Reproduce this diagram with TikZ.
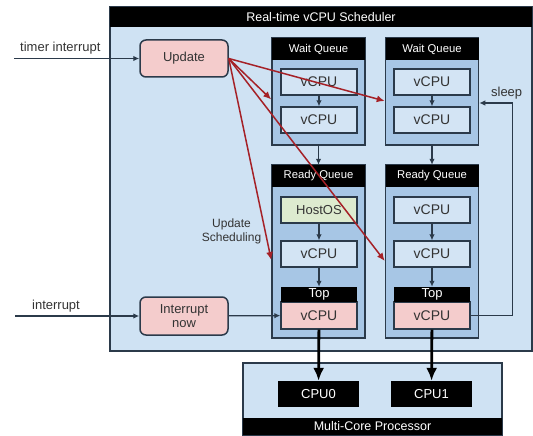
\documentclass[tikz,border=0pt]{standalone}
\usepackage{fontspec}
\setmainfont{Liberation Sans}
\usetikzlibrary{shapes.geometric, arrows, arrows.meta, positioning}

\definecolor{schedblue}{HTML}{CFE2F3}
\definecolor{queueblue}{HTML}{A7C6E5}
\definecolor{boxblue}{HTML}{D3E4F4}
\definecolor{pinkbox}{HTML}{F4CCCC}
\definecolor{greenbox}{HTML}{DDEBCF}
\definecolor{redline}{HTML}{A52127}
\definecolor{edge}{HTML}{2B3A4A}
\definecolor{labelgray}{HTML}{333333}

\tikzstyle{panel} = [
    rectangle,
    inner sep=0pt,
    draw=edge, line width=1.5pt, fill=schedblue]
\tikzstyle{queue} = [
    rectangle,
    minimum width=93pt,
    inner sep=0pt,
    draw=edge, line width=1.5pt, fill=queueblue]
\tikzstyle{bar} = [
    rectangle,
    inner sep=0pt,
    text centered,
    fill=black, text=white,
    font=\fontsize{11.3}{13}\selectfont]
\tikzstyle{vcpu} = [
    rectangle,
    minimum width=76pt, minimum height=26pt,
    inner sep=0pt,
    text centered, text=labelgray,
    draw=edge, line width=1.3pt, fill=boxblue,
    font=\fontsize{14}{16}\selectfont]
\tikzstyle{process} = [
    rectangle,
    rounded corners=6pt,
    minimum width=88pt, minimum height=37pt,
    align=center, text=labelgray,
    draw=edge, line width=1.5pt, fill=pinkbox,
    font=\fontsize{13}{15}\selectfont]
\tikzstyle{cpu} = [
    rectangle,
    minimum width=81pt, minimum height=26pt,
    text centered,
    fill=black, text=white,
    font=\fontsize{13}{15}\selectfont]
\tikzstyle{arrow} = [line width=1.3pt, draw=edge, -{Latex[length=6pt,width=5.5pt]}]
\tikzstyle{redarrow} = [line width=1.5pt, draw=redline, -{Latex[length=8pt,width=7pt]}]
\tikzstyle{bigarrow} = [line width=2.8pt, draw=black, -{Latex[length=13pt,width=11pt]}]

\begin{document}
\begin{tikzpicture}[x=1pt, y=-1pt, font=\fontsize{13}{15}\selectfont]
    \useasboundingbox (0,0) rectangle (533,436);

    % scheduler
    \node (sched) [panel, minimum width=422pt, minimum height=344pt] at (321,179) {};
    \node (sched_title) [bar, minimum width=422pt, minimum height=20pt, font=\fontsize{12.5}{14}\selectfont] at (321,17) {Real-time vCPU Scheduler};

    \node (upd) [process] at (184,58.5) {Update};
    \node (int_now) [process, minimum height=38pt, font=\fontsize{13}{14.5}\selectfont] at (184,316) {Interrupt\\now};

    % wait queues
    \node (wait_0) [queue, minimum height=107pt] at (318.5,91.5) {};
    \node (wait_0_title) [bar, minimum width=93pt, minimum height=22pt] at (318.5,49) {Wait Queue};
    \node (vcpu_w0_a) [vcpu] at (319,82) {vCPU};
    \node (vcpu_w0_b) [vcpu] at (319,120) {vCPU};

    \node (wait_1) [queue, minimum height=107pt] at (432,91.5) {};
    \node (wait_1_title) [bar, minimum width=93pt, minimum height=22pt] at (432,49) {Wait Queue};
    \node (vcpu_w1_a) [vcpu] at (432,82) {vCPU};
    \node (vcpu_w1_b) [vcpu] at (432,120) {vCPU};

    % ready queues
    \node (ready_0) [queue, minimum height=173pt] at (318.5,251.5) {};
    \node (ready_0_title) [bar, minimum width=93pt, minimum height=22pt] at (318.5,176) {Ready Queue};
    \node (host_os) [vcpu, fill=greenbox, font=\fontsize{13}{15}\selectfont] at (319,210) {HostOS};
    \node (vcpu_r0_a) [vcpu] at (319,254) {vCPU};
    \node (vcpu_r0_top) [vcpu, minimum height=27pt, fill=pinkbox] at (319,315.5) {vCPU};
    \node (top_0) [bar, minimum width=76pt, minimum height=15pt, font=\fontsize{13}{15}\selectfont] at (319,294.5) {Top};

    \node (ready_1) [queue, minimum height=173pt] at (432,251.5) {};
    \node (ready_1_title) [bar, minimum width=93pt, minimum height=22pt] at (432,176) {Ready Queue};
    \node (vcpu_r1_a) [vcpu] at (432,210) {vCPU};
    \node (vcpu_r1_b) [vcpu] at (432,254) {vCPU};
    \node (vcpu_r1_top) [vcpu, minimum height=27pt, fill=pinkbox] at (432,315.5) {vCPU};
    \node (top_1) [bar, minimum width=76pt, minimum height=15pt, font=\fontsize{13}{15}\selectfont] at (432,294.5) {Top};

    % processor
    \node (multi) [panel, minimum width=259pt, minimum height=72pt] at (372.5,399) {};
    \node (multi_title) [bar, minimum width=259pt, minimum height=17pt, font=\fontsize{12.5}{14}\selectfont] at (372.5,426.5) {Multi-Core Processor};
    \node (cpu_0) [cpu] at (318.5,394) {CPU0};
    \node (cpu_1) [cpu] at (431.5,394) {CPU1};

    \coordinate (timer_in) at (14,58.5);
    \coordinate (irq_in) at (15,316);

    \draw [arrow] (timer_in) -- node[pos=0.37, above, text=labelgray] {timer interrupt} (upd);
    \draw [arrow] (irq_in) -- node[pos=0.33, above, text=labelgray] {interrupt} (int_now);
    \draw [arrow] (int_now) -- (vcpu_r0_top);

    \draw [arrow] (vcpu_w0_a) -- (vcpu_w0_b);
    \draw [arrow] (vcpu_w1_a) -- (vcpu_w1_b);
    \draw [arrow] (wait_0) -- (ready_0_title);
    \draw [arrow] (wait_1) -- (ready_1_title);
    \draw [arrow] (host_os) -- (vcpu_r0_a);
    \draw [arrow] (vcpu_r0_a) -- (top_0);
    \draw [arrow] (vcpu_r1_a) -- (vcpu_r1_b);
    \draw [arrow] (vcpu_r1_b) -- (top_1);

    \draw [arrow] (vcpu_r1_top.east) -- ++(42,0) |- node[pos=0.5, above, xshift=-6pt, text=labelgray] {sleep} ([yshift=-11.5pt]wait_1.east);

    \draw [bigarrow] (vcpu_r0_top) -- (cpu_0);
    \draw [bigarrow] (vcpu_r1_top) -- (cpu_1);

    \draw [redarrow] (upd.east) -- ([yshift=-8pt]wait_0.west);
    \draw [redarrow] (upd.east) -- ([yshift=-9.5pt]wait_1.west);
    \draw [redarrow] (upd.east) -- node[pos=0.86, left, align=center, text=labelgray, font=\fontsize{12}{14}\selectfont] {Update\\Scheduling} ([yshift=-8.5pt]ready_0.west);
    \draw [redarrow] (upd.east) -- ([yshift=-9.5pt]ready_1.west);
\end{tikzpicture}
\end{document}
